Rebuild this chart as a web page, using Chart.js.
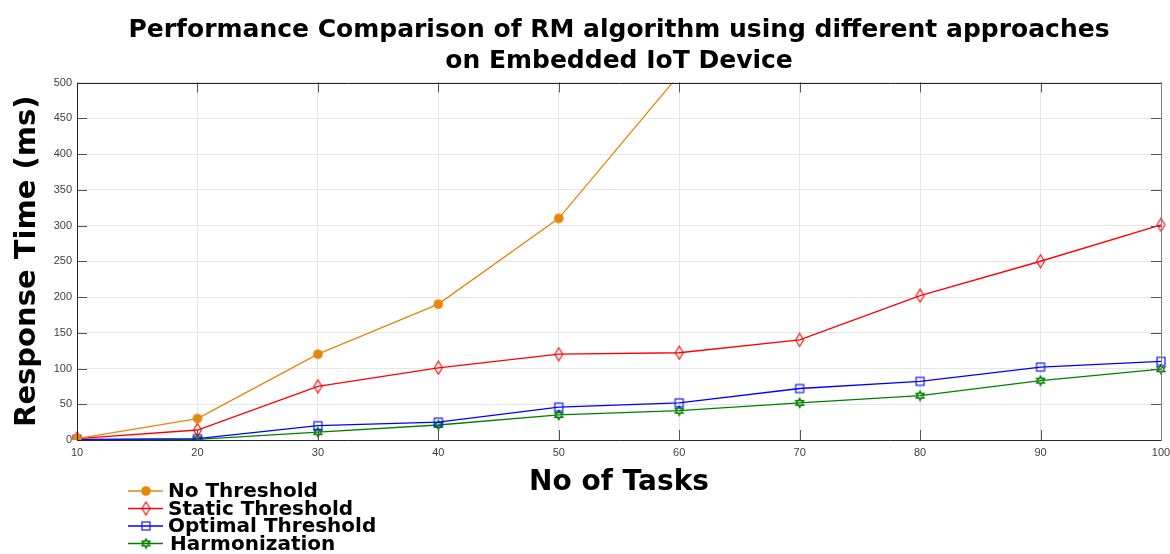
<!DOCTYPE html>
<html>
<head>
<meta charset="utf-8">
<script src="https://cdn.jsdelivr.net/npm/chart.js@4.4.1/dist/chart.umd.min.js"></script>
<style>
  body { margin: 0; background: #fff; }
  #wrap { width: 1170px; height: 554px; }
</style>
</head>
<body>
<div id="wrap"><canvas id="chart"></canvas></div>
<script>
// chart data
const taskCounts = [10, 20, 30, 40, 50, 60, 70, 80, 90, 100];
const noThreshold = [2, 30, 120, 190, 310, 511];
const staticThreshold = [2, 14, 75, 101, 120, 122, 140, 202, 250, 301];
const optimalThreshold = [1, 2, 20, 25, 46, 52, 72, 82, 102, 110];
const harmonization = [0, 1, 11, 21, 35, 41, 52, 62, 83, 99];
const yTicks = [0, 50, 100, 150, 200, 250, 300, 350, 400, 450, 500];

// little canvases for the marker shapes
function makeMarker(kind, color) {
    const c = document.createElement('canvas');
    const w = kind === 'diamond' ? 11 : 12;
    const h = kind === 'diamond' ? 15 : 12;
    c.width = w; c.height = h;
    const g = c.getContext('2d');
    g.strokeStyle = color;
    g.fillStyle = color;
    g.lineWidth = 1.1;
    const cx = w / 2, cy = h / 2;
    if (kind === 'circle') {
        g.beginPath();
        g.arc(cx, cy, 4.8, 0, Math.PI * 2);
        g.fill();
    } else if (kind === 'diamond') {
        g.beginPath();
        g.moveTo(cx, 1); g.lineTo(w - 1.5, cy); g.lineTo(cx, h - 1); g.lineTo(1.5, cy);
        g.closePath();
        g.stroke();
    } else if (kind === 'square') {
        g.strokeRect(2, 2, 8, 8);
    } else if (kind === 'star') {
        // hexagram
        g.beginPath();
        for (let k = 0; k < 2; k++) {
            for (let i = 0; i < 3; i++) {
                const a = -Math.PI / 2 + k * Math.PI / 3 + i * 2 * Math.PI / 3;
                const x = cx + 4.8 * Math.cos(a), y = cy + 4.8 * Math.sin(a);
                if (i === 0) g.moveTo(x, y); else g.lineTo(x, y);
            }
            g.closePath();
        }
        g.stroke();
    }
    return c;
}

const series = [
    { label: 'No Threshold', data: noThreshold, color: '#e8850c', marker: 'circle' },
    { label: 'Static Threshold', data: staticThreshold, color: '#ff0000', marker: 'diamond' },
    { label: 'Optimal Threshold', data: optimalThreshold, color: '#0000ff', marker: 'square' },
    { label: 'Harmonization', data: harmonization, color: '#008000', marker: 'star' }
];
series.forEach(s => s.img = makeMarker(s.marker, s.color));

// MATLAB style box with inward ticks
const boxPlugin = {
    id: 'box',
    afterDatasetsDraw(chart) {
        const { ctx, chartArea: a, scales } = chart;
        ctx.save();
        ctx.lineWidth = 1;
        ctx.strokeStyle = '#555';
        ctx.beginPath();
        yTicks.forEach(v => {
            const y = Math.round(scales.y.getPixelForValue(v)) + 0.5;
            ctx.moveTo(a.left, y); ctx.lineTo(a.left + 10, y);
            ctx.moveTo(a.right, y); ctx.lineTo(a.right - 10, y);
        });
        taskCounts.forEach((t, i) => {
            const x = Math.round(scales.x.getPixelForValue(i)) + 0.5;
            ctx.moveTo(x, a.bottom); ctx.lineTo(x, a.bottom - 10);
            ctx.moveTo(x, a.top); ctx.lineTo(x, a.top + 10);
        });
        ctx.stroke();
        ctx.strokeStyle = '#262626';
        ctx.beginPath();
        ctx.moveTo(Math.round(a.right) + 0.5, Math.round(a.top) + 0.5);
        ctx.lineTo(Math.round(a.left) + 0.5, Math.round(a.top) + 0.5);
        ctx.lineTo(Math.round(a.left) + 0.5, Math.round(a.bottom) + 0.5);
        ctx.lineTo(Math.round(a.right) + 0.5, Math.round(a.bottom) + 0.5);
        ctx.stroke();
        ctx.strokeStyle = '#808080';
        ctx.beginPath();
        ctx.moveTo(Math.round(a.right) + 0.5, Math.round(a.top) + 0.5);
        ctx.lineTo(Math.round(a.right) + 0.5, Math.round(a.bottom) + 0.5);
        ctx.stroke();
        ctx.restore();
    }
};

// legend stacked under the x axis title
const legendPlugin = {
    id: 'stackLegend',
    afterDraw(chart) {
        const ctx = chart.ctx;
        const rows = [491, 508.5, 526, 543.5];
        ctx.save();
        ctx.font = 'bold 20px "DejaVu Sans"';
        ctx.textBaseline = 'middle';
        ctx.fillStyle = '#000';
        series.forEach((s, i) => {
            const y = rows[i];
            ctx.strokeStyle = s.color;
            ctx.lineWidth = 1.3;
            ctx.beginPath();
            ctx.moveTo(128, y); ctx.lineTo(163, y);
            ctx.stroke();
            ctx.drawImage(s.img, 146 - s.img.width / 2, y - s.img.height / 2);
            ctx.fillText(s.label, i === 3 ? 170 : 168, y + 1);
        });
        ctx.restore();
    }
};

new Chart(document.getElementById('chart'), {
    type: 'line',
    data: {
        labels: taskCounts,
        datasets: series.map(s => ({
            label: s.label,
            data: s.data,
            borderColor: s.color,
            backgroundColor: s.color,
            borderWidth: 1.3,
            pointStyle: s.img,
            pointRadius: 5,
            tension: 0
        }))
    },
    options: {
        responsive: true,
        maintainAspectRatio: false,
        animation: false,
        layout: { padding: { left: 0, right: 0, top: 0, bottom: 0 } },
        plugins: {
            legend: { display: false },
            tooltip: { enabled: false },
            title: {
                display: true,
                fullSize: false,
                text: ['Performance Comparison of RM algorithm using different approaches', 'on Embedded IoT Device'],
                font: { family: '"DejaVu Sans"', size: 25, weight: 'bold', lineHeight: 1.25 },
                color: '#000',
                padding: { top: 15, bottom: 5 }
            }
        },
        scales: {
            x: {
                grid: { color: '#e6e6e6', drawTicks: false },
                border: { display: false },
                ticks: { font: { family: '"Liberation Sans"', size: 11 }, color: '#404040', padding: 6, maxRotation: 0 },
                title: {
                    display: true,
                    text: 'No of Tasks',
                    font: { family: '"DejaVu Sans"', size: 28, weight: 'bold', lineHeight: 1.2 },
                    color: '#000',
                    padding: { top: 0, bottom: 54 }
                },
                afterFit(scale) {
                    scale.height = 114;
                    scale.paddingRight = 9;
                }
            },
            y: {
                min: 0,
                max: 500,
                grid: { color: '#e6e6e6', drawTicks: false },
                border: { display: false },
                ticks: { stepSize: 50, font: { family: '"Liberation Sans"', size: 11 }, color: '#404040', padding: 5 },
                title: {
                    display: true,
                    text: 'Response Time (ms)',
                    font: { family: '"DejaVu Sans"', size: 29, weight: 'bold', lineHeight: 1.2 },
                    color: '#000',
                    padding: { top: 10, bottom: 0 }
                },
                afterFit(scale) { scale.width = 77; }
            }
        }
    },
    plugins: [boxPlugin, legendPlugin]
});
</script>
</body>
</html>
